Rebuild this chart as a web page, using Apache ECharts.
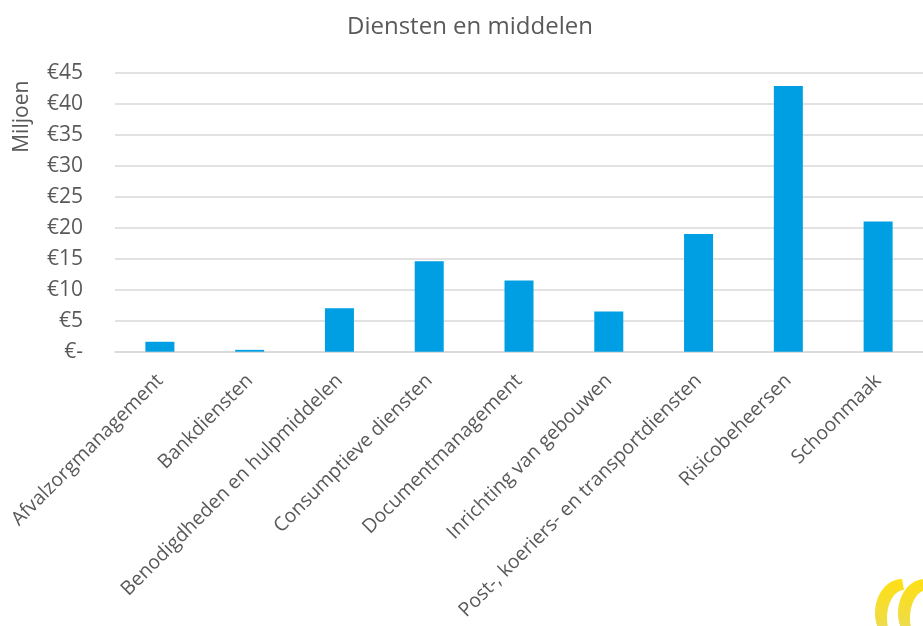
<!DOCTYPE html>
<html><head><meta charset="utf-8">
<script src="https://cdn.jsdelivr.net/npm/echarts@6/dist/echarts.min.js"></script>
<style>html,body{margin:0;padding:0;background:#fff}#c{width:923px;height:626px}</style>
</head><body><div id="c"></div>
<script>
const categories = ["Afvalzorgmanagement","Bankdiensten","Benodigdheden en hulpmiddelen","Consumptieve diensten","Documentmanagement","Inrichting van gebouwen","Post-, koeriers- en transportdiensten","Risicobeheersen","Schoonmaak"];
const values = [1.6, 0.3, 7.0, 14.6, 11.5, 6.5, 19.0, 42.85, 21.0];
const title = "Diensten en middelen";
const axisName = "Miljoen";
const FONT = "'Open Sans', sans-serif";
const chart = echarts.init(document.getElementById('c'));
const grad = {type:'linear',x:0,y:0,x2:0,y2:1,colorStops:[{offset:0,color:'#ffe014'},{offset:0.6,color:'#f0dc40'},{offset:1,color:'#e6dc9a'}]};
function ring(cx, cy, rxo, ryo, rxi, ryi, dy){
  const pts=[];
  for(let i=0;i<=24;i++){const a=Math.PI/2+Math.PI*i/24;pts.push([cx+rxo*Math.cos(a),cy-ryo*Math.sin(a)]);}
  for(let i=24;i>=0;i--){const a=Math.PI/2+Math.PI*i/24;pts.push([cx+2+rxi*Math.cos(a),cy+dy-ryi*Math.sin(a)]);}
  return pts;
}
chart.setOption({
  animation:false,
  textStyle:{fontFamily:FONT},
  title:{text:title,left:342,top:10,textStyle:{fontFamily:FONT,fontSize:24,fontWeight:'normal',color:'#595959'}},
  grid:{left:115,right:-11,top:72.7,bottom:274.3,containLabel:false},
  xAxis:{type:'category',data:categories,
    axisLine:{show:true,lineStyle:{color:'#d9d9d9',width:1.5}},axisTick:{show:false},
    axisLabel:{interval:0,rotate:45,color:'#595959',fontSize:19.5,fontFamily:FONT,margin:26}},
  yAxis:{type:'value',min:0,max:45,interval:5,name:axisName,nameLocation:'end',nameRotate:90,
    nameGap:0,nameTextStyle:{color:'#595959',fontSize:21,fontFamily:FONT,align:'right',verticalAlign:'bottom',padding:[0,8,82,0]},
    axisLine:{show:false},axisTick:{show:false},
    splitLine:{lineStyle:{color:'#d9d9d9',width:1.5}},
    axisLabel:{color:'#595959',fontSize:21,fontFamily:FONT,margin:32,formatter:v=>v===0?'€-':'€'+v}},
  series:[{type:'bar',data:values,barWidth:29,itemStyle:{color:'#009FE3'}}],
  graphic:[
    {type:'polygon',silent:true,shape:{points:ring(902,613,27,34,17,28,5)},style:{fill:grad}},
    {type:'polygon',silent:true,shape:{points:ring(925,613,27,34,17,28,5)},style:{fill:grad}}
  ]
});
</script></body></html>
